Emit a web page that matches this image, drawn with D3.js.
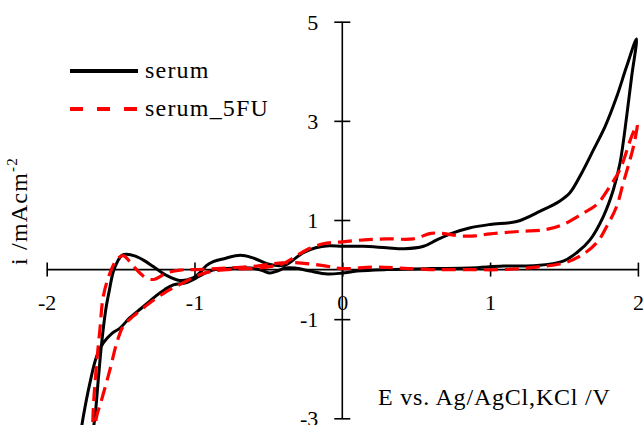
<!DOCTYPE html>
<html><head><meta charset="utf-8">
<script src="https://cdn.jsdelivr.net/npm/d3@7/dist/d3.min.js"></script>
<style>html,body{margin:0;padding:0;background:#fff;}svg{display:block;}
svg text{font-family:"Liberation Serif","Times New Roman",Times,serif !important;}</style>
</head><body>
<svg id="chart" width="644" height="425"></svg>
<script>
// ---- data (E in V, i in mA cm^-2) ----
const serumE = [-1.70,-1.673,-1.651,-1.628,-1.60,-1.575,-1.55,-1.52,-1.49,-1.46,-1.40,-1.34,-1.279,-1.188,-1.10,-1.02,-0.96,-0.92,-0.873,-0.80,-0.69,-0.60,-0.51,-0.44,-0.38,-0.33,-0.264,-0.18,-0.09,0,0.14,0.30,0.42,0.55,0.64,0.75,0.86,1.0,1.18,1.34,1.47,1.54,1.62,1.70,1.78,1.857,1.924,1.99,1.958,1.924,1.879,1.834,1.766,1.676,1.586,1.495,1.315,1.09,0.864,0.6,0.3,0.1,0,-0.1,-0.22,-0.32,-0.39,-0.44,-0.49,-0.54,-0.62,-0.74,-0.86,-0.92,-0.97,-1.053,-1.143,-1.20,-1.256,-1.30,-1.36,-1.437,-1.504,-1.56,-1.617,-1.662,-1.707,-1.752,-1.78];
const serumI = [-3.5,-2.96,-2.22,-1.48,-0.80,-0.40,-0.05,0.17,0.29,0.31,0.27,0.18,0.06,-0.12,-0.22,-0.18,-0.05,0.08,0.16,0.22,0.29,0.23,0.12,0.08,0.10,0.20,0.34,0.44,0.48,0.47,0.47,0.44,0.42,0.47,0.60,0.74,0.84,0.91,0.97,1.18,1.38,1.55,1.95,2.42,2.90,3.49,4.10,4.65,3.90,3.09,2.15,1.61,1.07,0.60,0.34,0.17,0.08,0.07,0.03,0.02,0.0,-0.03,-0.07,-0.09,-0.03,0.03,0.03,-0.03,-0.07,-0.02,0.03,0.03,0.0,-0.06,-0.14,-0.26,-0.31,-0.40,-0.52,-0.63,-0.78,-0.97,-1.18,-1.29,-1.48,-1.75,-2.28,-2.96,-3.5];
const fuE = [-1.69,-1.685,-1.662,-1.64,-1.617,-1.572,-1.526,-1.482,-1.414,-1.346,-1.279,-1.188,-1.098,-0.985,-0.782,-0.579,-0.466,-0.331,-0.129,0.0,0.21,0.39,0.593,0.819,1.09,1.315,1.495,1.608,1.721,1.789,1.857,1.901,1.947,1.975,1.995,1.958,1.935,1.879,1.811,1.721,1.631,1.495,1.383,1.2,1.0,0.9,0.79,0.68,0.6,0.48,0.3,0.15,0.0,-0.13,-0.24,-0.33,-0.4,-0.47,-0.58,-0.71,-0.87,-0.963,-1.098,-1.188,-1.301,-1.414,-1.482,-1.526,-1.572,-1.628,-1.662,-1.69];
const fuI = [-3.5,-2.82,-1.88,-1.21,-0.54,-0.07,0.2,0.28,0.07,-0.13,-0.2,-0.07,-0.01,0.0,0.03,0.07,0.12,0.14,0.08,0.02,0.05,0.03,0.0,0.0,0.0,0.05,0.13,0.27,0.54,0.87,1.28,1.75,2.22,2.55,2.92,2.69,2.49,2.02,1.68,1.31,1.14,0.91,0.81,0.77,0.72,0.68,0.68,0.73,0.73,0.62,0.62,0.6,0.56,0.52,0.40,0.24,0.12,0.07,0.03,0.01,-0.03,-0.1,-0.3,-0.44,-0.67,-0.94,-1.14,-1.48,-2.02,-2.62,-2.96,-3.5];
const seriesNames = ["serum", "serum_5FU"];
const xTicks = [-2, -1, 0, 1, 2];
const yTicks = [-3, -1, 1, 3, 5];
const xTitle = "E vs. Ag/AgCl,KCl /V";

// ---- chart ----
const svg = d3.select("#chart");
const x = d3.scaleLinear().domain([-2, 2]).range([46.7, 637.9]);
const y = d3.scaleLinear().domain([-3, 5]).range([418.3, 21.7]);

// x axis (crosses at i = 0)
const xAxis = svg.append("g").attr("transform", `translate(0,${y(0)})`)
  .call(d3.axisBottom(x).tickValues(xTicks).tickSize(0).tickPadding(0).tickFormat(d3.format("d")));
xAxis.select(".domain").attr("stroke", "#000").attr("stroke-width", 1.6).attr("d", `M${x(-2)},0H${x(2)}`);
xAxis.selectAll(".tick line").attr("y1", -7).attr("y2", 7).attr("stroke", "#000").attr("stroke-width", 1.6);
xAxis.selectAll(".tick text").attr("y", 40).attr("dy", null)
  .attr("font-size", 22).attr("fill", "#000").text(d => d < 0 ? "-" + Math.abs(d) : d);

// y axis (crosses at E = 0)
const yAxis = svg.append("g").attr("transform", `translate(${x(0)},0)`)
  .call(d3.axisLeft(y).tickValues(yTicks).tickSize(0).tickPadding(0).tickFormat(d3.format("d")));
yAxis.select(".domain").attr("stroke", "#000").attr("stroke-width", 1.6).attr("d", `M0,${y(-3)}V${y(5)}`);
yAxis.selectAll(".tick line").attr("x1", -8).attr("x2", 8).attr("stroke", "#000").attr("stroke-width", 1.6);
yAxis.selectAll(".tick text").attr("x", -24).attr("dy", "0.34em")
  .attr("font-size", 22).attr("fill", "#000").text(d => d < 0 ? "-" + Math.abs(d) : d);

// curves
const line = d3.line().x(d => x(d[0])).y(d => y(d[1])).curve(d3.curveCatmullRom.alpha(0.5));
const serumPts = serumE.map((e, k) => [e, serumI[k]]);
const fuPts = fuE.map((e, k) => [e, fuI[k]]);

svg.append("path").datum(serumPts).attr("d", line)
  .attr("fill", "none").attr("stroke", "#000").attr("stroke-width", 3).attr("stroke-linejoin", "round");
svg.append("path").datum(fuPts).attr("d", line)
  .attr("fill", "none").attr("stroke", "#ff0000").attr("stroke-width", 3.2).attr("stroke-dasharray", "14,7");

// axis titles
svg.append("text").attr("x", 378).attr("y", 405).attr("font-size", 24)
  .attr("letter-spacing", 0.8).attr("fill", "#000").text(xTitle);

const yt = svg.append("text").attr("transform", "translate(27,265) rotate(-90)")
  .attr("font-size", 24).attr("letter-spacing", 1.2).attr("fill", "#000");
yt.append("tspan").text("i /mAcm");
yt.append("tspan").attr("font-size", 15).attr("dy", -10).text("-2");

// legend
const legend = svg.append("g");
const legY = [71, 109];
legend.append("line").attr("x1", 70).attr("x2", 138).attr("y1", legY[0]).attr("y2", legY[0])
  .attr("stroke", "#000").attr("stroke-width", 4);
legend.append("line").attr("x1", 70).attr("x2", 138).attr("y1", legY[1]).attr("y2", legY[1])
  .attr("stroke", "#ff0000").attr("stroke-width", 4).attr("stroke-dasharray", "13,14");
seriesNames.forEach((n, k) => {
  legend.append("text").attr("x", 145).attr("y", legY[k] + 7)
    .attr("font-size", 24).attr("letter-spacing", 1.2).attr("fill", "#000").text(n);
});
</script>
</body></html>
